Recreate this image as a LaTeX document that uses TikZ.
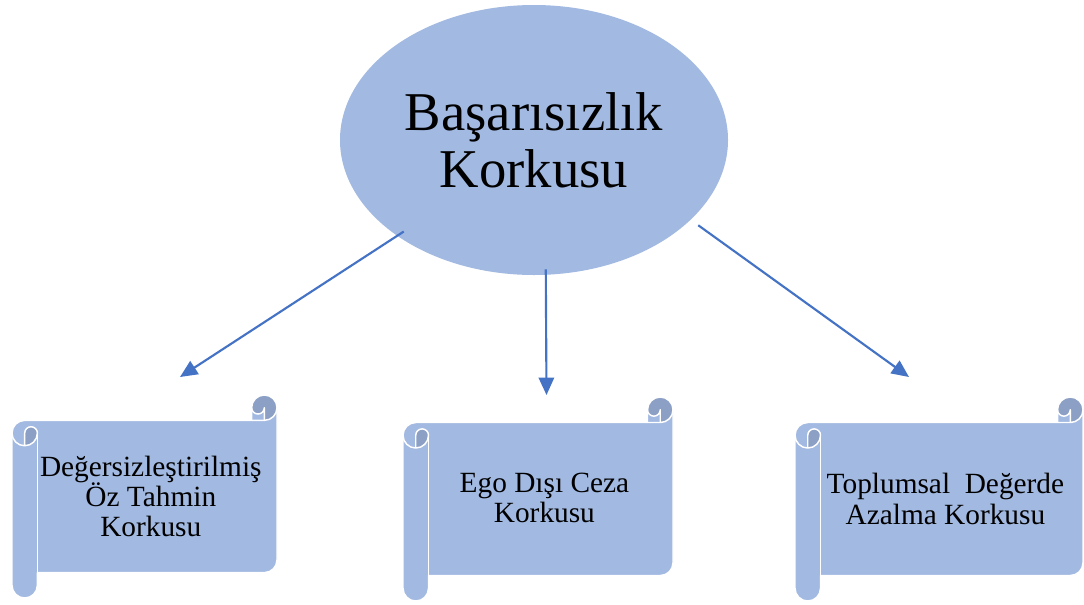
\documentclass[tikz,border=0pt]{standalone}
\usepackage{fontspec}
\setmainfont{Liberation Serif}
\usetikzlibrary{arrows.meta,shapes.geometric}

\definecolor{mainfill}{RGB}{162,185,225}
\definecolor{rolldark}{RGB}{140,160,197}
\definecolor{arrowblue}{RGB}{68,114,196}

\tikzset{
  scrollline/.style={draw=white,line width=1.1pt,line join=round},
  scrolltext/.style={align=center,inner sep=0pt,
    font=\fontsize{22}{22.7}\selectfont},
  bubble/.style={ellipse,fill=mainfill,inner sep=0pt,
    minimum width=291pt,minimum height=202.5pt,align=center,
    font=\fontsize{41}{42.75}\selectfont},
  arrowline/.style={draw=arrowblue,line width=1.6pt,
    -{Triangle[length=13pt,width=11.5pt]}},
}

% horizontal scroll: left, top, right, bottom (y grows downwards)
\newcommand{\drawscroll}[4]{%
  \pgfmathsetmacro{\sL}{#1}\pgfmathsetmacro{\sT}{#2}%
  \pgfmathsetmacro{\sR}{#3}\pgfmathsetmacro{\sB}{#4}%
  \pgfmathsetmacro{\sc}{0.125*min(#3-#1,#4-#2)}%
  \pgfmathsetmacro{\sh}{\sc/2}\pgfmathsetmacro{\sq}{\sc/4}%
  \pgfmathsetmacro{\xa}{\sL+\sh}\pgfmathsetmacro{\xb}{\sL+\sc}%
  \pgfmathsetmacro{\xc}{\sR-\sc}\pgfmathsetmacro{\xd}{\sR-\sh}%
  \pgfmathsetmacro{\ya}{\sT+\sh}\pgfmathsetmacro{\yb}{\sT+\sc}%
  \pgfmathsetmacro{\yc}{\sT+\sc+\sh}\pgfmathsetmacro{\yd}{\sT+2*\sc}%
  \pgfmathsetmacro{\ye}{\sB-\sc-\sh}\pgfmathsetmacro{\yf}{\sB-\sc}%
  \pgfmathsetmacro{\yg}{\sB-\sh}%
  % sheet
  \fill[mainfill] (\sR,\ya) arc[start angle=0,delta angle=90,radius=\sh]
    -- (\xd,\ya) arc[start angle=0,delta angle=180,radius=\sq]
    -- (\xc,\yb) -- (\xa,\yb)
    arc[start angle=270,delta angle=-90,radius=\sh]
    -- (\sL,\yg) arc[start angle=180,delta angle=-180,radius=\sh]
    -- (\xb,\yf) -- (\xd,\yf)
    arc[start angle=90,delta angle=-90,radius=\sh] -- cycle;
  % shaded inner sides of the rolls
  \fill[rolldark] (\xa,\yd) arc[start angle=90,delta angle=-90,radius=\sh]
    arc[start angle=0,delta angle=-180,radius=\sq] -- cycle;
  \fill[rolldark] (\xd,\yb) arc[start angle=90,delta angle=-270,radius=\sh]
    arc[start angle=180,delta angle=-180,radius=\sq] -- cycle;
  % outline and roll edges
  \draw[scrollline] (\sL,\yc) arc[start angle=180,delta angle=90,radius=\sh]
    -- (\xc,\yb) -- (\xc,\ya)
    arc[start angle=180,delta angle=180,radius=\sh]
    -- (\sR,\ye) arc[start angle=0,delta angle=90,radius=\sh]
    -- (\xb,\yf) -- (\xb,\yg)
    arc[start angle=0,delta angle=180,radius=\sh] -- cycle;
  \draw[scrollline] (\xc,\yb) -- (\xd,\yb)
    arc[start angle=90,delta angle=-90,radius=\sh];
  \draw[scrollline] (\xd,\yb) -- (\xd,\ya)
    arc[start angle=0,delta angle=180,radius=\sq];
  \draw[scrollline] (\xa,\yd) -- (\xa,\yc)
    arc[start angle=180,delta angle=180,radius=\sq]
    arc[start angle=0,delta angle=180,radius=\sh];
  \draw[scrollline] (\xb,\yc) -- (\xb,\yf);
}

\begin{document}
\begin{tikzpicture}[x=0.75pt,y=-0.75pt]
  \useasboundingbox (0,0) rectangle (1084,604);

  % central idea
  \node[bubble] (ell) at (534,140) {Başarısızlık\\Korkusu};

  % the three scrolls
  \drawscroll{12}{395}{277}{598}
  \drawscroll{403}{397}{673}{601}
  \drawscroll{795}{397}{1083}{601}

  \node[scrolltext] (s1) at (150.8,496.5)
    {Değersizleştirilmiş\\Öz Tahmin\\Korkusu};
  \node[scrolltext] (s2) at (544.4,498) {Ego Dışı Ceza\\Korkusu};
  \node[scrolltext] (s3) at (945.4,499)
    {Toplumsal\ \ Değerde\\Azalma Korkusu};

  % arrow tips above the scrolls
  \coordinate (t1) at (180,377);
  \coordinate (t2) at (546.5,395);
  \coordinate (t3) at (909,377);

  \draw[arrowline,shorten <=-6pt] (ell.215.5) -- (t1);
  \draw[arrowline,shorten <=-4.3pt] (ell.275.3) -- (t2);
  \draw[arrowline,shorten <=6.9pt] (ell.333.8) -- (t3);
\end{tikzpicture}
\end{document}
